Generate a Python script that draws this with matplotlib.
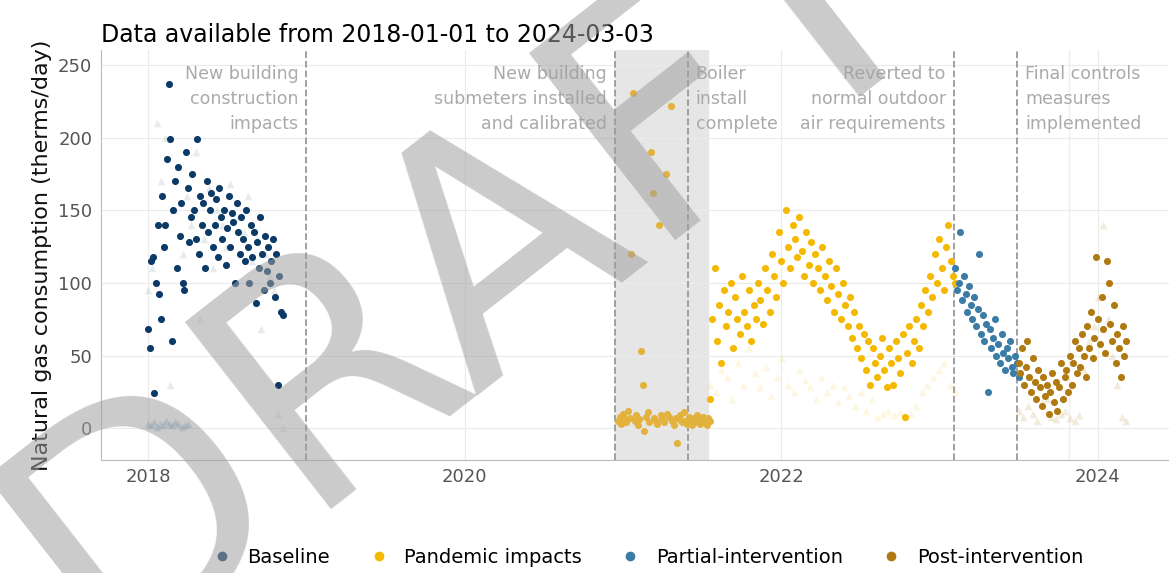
import numpy as np
import matplotlib.pyplot as plt
from matplotlib.lines import Line2D

# dates as decimal years, readings in therms/day
base_start, base_end = 2018.0, 2018.85
base_vals = [68, 55, 115, 118, 24, 100, 140, 92, 75, 160, 125, 140, 185, 237, 199, 60, 150, 170,
             110, 180, 132, 155, 100, 95, 190, 165, 128, 145, 175, 150, 130, 199, 120, 160, 140,
             155, 110, 170, 135, 150, 162, 125, 140, 158, 118, 165, 145, 130, 150, 112, 138, 160,
             125, 148, 142, 100, 155, 135, 120, 145, 130, 115, 150, 125, 100, 140, 118, 135, 86,
             128, 110, 145, 120, 95, 132, 108, 125, 100, 115, 130, 90, 120, 30, 105, 80, 78]

gap_start, gap_end = 2020.97, 2021.55
gap_vals = [5, 8, 3, 10, 6, 4, 12, 7, 120, 231, 5, 9, 2, 6, 53, 30, -2, 8, 11, 4, 190, 162, 7, 5,
            3, 140, 9, 6, 4, 175, 10, 8, 222, 5, 2, 7, -10, 6, 9, 4, 11, 5, 3, 8, 6, 2, 7, 4, 9, 5,
            3, 6, 8, 4, 2, 7, 5]

pan_start, pan_end = 2021.55, 2023.1
pan_vals = [20, 75, 110, 60, 85, 45, 95, 70, 80, 100, 55, 90, 75, 65, 105, 80, 70, 95, 60, 85,
            75, 100, 88, 72, 110, 95, 80, 120, 105, 90, 135, 115, 100, 150, 125, 110, 140, 130,
            118, 145, 122, 105, 135, 112, 128, 100, 120, 110, 95, 125, 105, 88, 115, 98, 80, 110,
            92, 75, 100, 85, 70, 90, 62, 80, 55, 70, 48, 65, 40, 60, 30, 55, 45, 35, 50, 62, 40,
            28, 55, 45, 30, 60, 48, 38, 65, 8, 52, 70, 45, 60, 75, 55, 85, 70, 95, 80, 105, 90,
            120, 100, 130, 110, 95, 125, 140, 115, 105, 100]

part_start, part_end = 2023.1, 2023.5
part_vals = [110, 95, 100, 135, 88, 105, 92, 80, 98, 85, 75, 90, 70, 82, 120, 65, 78, 60, 72,
             25, 68, 55, 62, 75, 50, 58, 45, 65, 52, 40, 55, 48, 60, 42, 38, 50, 45, 35]

post_start, post_end = 2023.5, 2024.18
post_vals = [45, 38, 55, 30, 42, 60, 35, 25, 48, 32, 20, 40, 28, 15, 35, 22, 30, 10, 25, 38, 18,
             32, 12, 28, 45, 20, 35, 40, 25, 50, 30, 45, 60, 38, 55, 42, 65, 50, 35, 70, 55, 80,
             48, 62, 118, 75, 58, 90, 68, 52, 115, 100, 72, 60, 85, 45, 65, 55, 35, 70, 50, 60]

# faint comparison readings (triangles)
ghost_start, ghost_end = 2018.0, 2018.85
ghost_hi = [95, 110, 210, 170, 200, 30, 150, 180, 120, 160, 140, 190, 75, 130, 165, 110, 150,
            140, 125, 168, 100, 145, 135, 160, 115, 130, 68, 120, 105, 95, 10, 0]
ghost_lo = [3, 2, 4, 1, 3, 2, 5, 3, 2, 4, 3, 1, 2, 3]
ghost_pan_vals = [30, 25, 40, 35, 20, 45, 30, 55, 38, 28, 42, 22, 35, 48, 30, 25, 40, 33, 28,
                  20, 35, 25, 30, 18, 28, 22, 15, 25, 12, 20, 8, 10, 12, 9, 11, 8, 10, 15, 25,
                  30, 35, 40, 45, 30, 25]
ghost_post_vals = [12, 8, 15, 10, 5, 18, 20, 8, 6, 10, 12, 7, 5, 9, 40, 60, 70, 90, 140, 75,
                   50, 30, 8, 5]

events = [2019.0, 2020.95, 2021.41, 2023.09, 2023.49]
labels = ["Baseline", "Pandemic impacts", "Partial-intervention", "Post-intervention"]
colors = ["#0b3a66", "#f5b800", "#3a7ca5", "#b07a10"]


def dates(a, b, vals):
    return np.linspace(a, b, len(vals))


fig = plt.figure(figsize=(11.69, 5.73), dpi=100)
ax = fig.add_axes([0.086, 0.197, 0.914, 0.715])

ax.axvspan(2020.95, 2021.54, color="#e6e6e6", zorder=0)
for e in events:
    ax.axvline(e, color="#999999", ls="--", lw=1.3, zorder=1)
ax.axvline(2023.82, color="#eeeeee", lw=1, zorder=0)

ax.scatter(dates(ghost_start, ghost_end, ghost_hi), ghost_hi, marker="^", s=30, color="#bfc6cc", alpha=0.35, lw=0)
ax.scatter(dates(ghost_start, 2018.25, ghost_lo), ghost_lo, marker="^", s=30, color="#7a9cbf", alpha=0.4, lw=0)
ax.scatter(dates(2021.55, 2023.1, ghost_pan_vals), ghost_pan_vals, marker="^", s=30, color="#f5b800", alpha=0.12, lw=0)
ax.scatter(dates(2023.5, 2024.18, ghost_post_vals), ghost_post_vals, marker="^", s=30, color="#b07a10", alpha=0.15, lw=0)

ax.scatter(dates(gap_start, gap_end, gap_vals), gap_vals, s=26, color="#e3b23c", lw=0, zorder=3)
ax.scatter(dates(base_start, base_end, base_vals), base_vals, s=26, color=colors[0], lw=0, zorder=3)
ax.scatter(dates(pan_start, pan_end, pan_vals), pan_vals, s=26, color=colors[1], lw=0, zorder=3)
ax.scatter(dates(part_start, part_end, part_vals), part_vals, s=26, color=colors[2], lw=0, zorder=3)
ax.scatter(dates(post_start, post_end, post_vals), post_vals, s=26, color=colors[3], lw=0, zorder=3)

tc = "#aaaaaa"
ax.text(2018.95, 250, "New building\nconstruction\nimpacts", ha="right", va="top", color=tc, fontsize=12.5, linespacing=1.5)
ax.text(2020.9, 250, "New building\nsubmeters installed\nand calibrated", ha="right", va="top", color=tc, fontsize=12.5, linespacing=1.5)
ax.text(2021.46, 250, "Boiler\ninstall\ncomplete", ha="left", va="top", color=tc, fontsize=12.5, linespacing=1.5)
ax.text(2023.04, 250, "Reverted to\nnormal outdoor\nair requirements", ha="right", va="top", color=tc, fontsize=12.5, linespacing=1.5)
ax.text(2023.54, 250, "Final controls\nmeasures\nimplemented", ha="left", va="top", color=tc, fontsize=12.5, linespacing=1.5)

ax.set_xlim(2017.7, 2024.45)
ax.set_ylim(-22, 260)
ax.set_xticks([2018, 2020, 2022, 2024])
ax.set_xticklabels(["2018", "2020", "2022", "2024"])
ax.set_yticks([0, 50, 100, 150, 200, 250])
ax.grid(color="#ebebeb", lw=0.8)
ax.set_axisbelow(True)
for s in ["top", "right"]:
    ax.spines[s].set_visible(False)
for s in ["left", "bottom"]:
    ax.spines[s].set_color("#bbbbbb")
ax.tick_params(colors="#555555", labelsize=13, length=0, pad=6)
ax.set_ylabel("Natural gas consumption (therms/day)", fontsize=16, color="#111111")
ax.set_title("Data available from 2018-01-01 to 2024-03-03", loc="left", fontsize=17, x=0.0, pad=6)

handles = [Line2D([], [], marker="o", ls="", color=c, markersize=6) for c in colors]
fig.legend(handles, labels, loc="lower center", ncol=4, frameon=False, fontsize=14,
           bbox_to_anchor=(0.55, -0.02), handletextpad=0.3, columnspacing=1.5)

fig.text(0.40, 0.54, "DRAFT", fontsize=235, color="#a0a0a0", alpha=0.55, rotation=38,
         ha="center", va="center", zorder=10)

fig.savefig("out.png", dpi=100)
